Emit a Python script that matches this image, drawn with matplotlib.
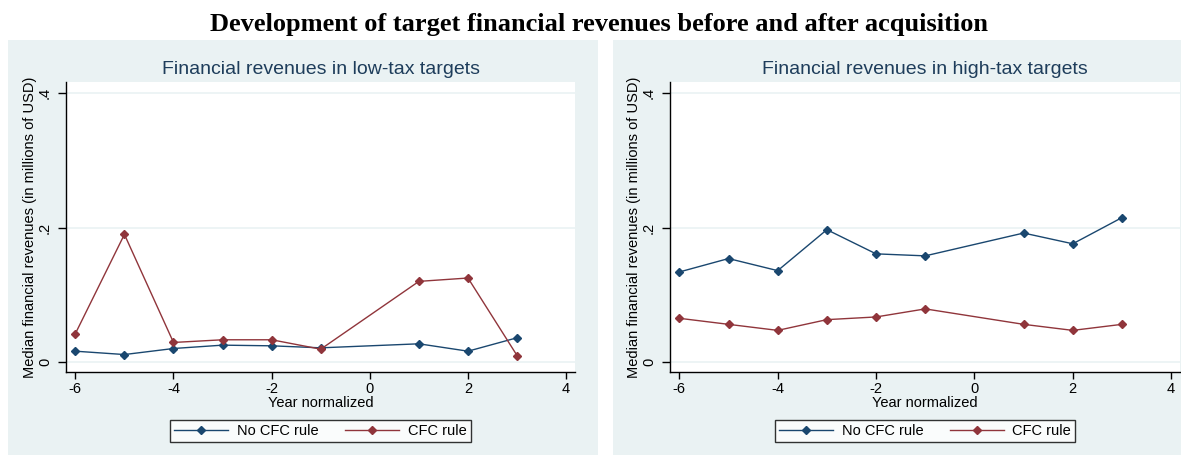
import matplotlib
matplotlib.use("Agg")
import matplotlib.pyplot as plt
from matplotlib.patches import Rectangle

plt.rcParams["font.family"] = ["Liberation Sans", "DejaVu Sans"]

years = [-6, -5, -4, -3, -2, -1, 1, 2, 3]

low_no_cfc = [0.016, 0.011, 0.020, 0.025, 0.024, 0.021, 0.027, 0.016, 0.036]
low_cfc = [0.042, 0.190, 0.029, 0.033, 0.033, 0.019, 0.120, 0.125, 0.0095]

high_no_cfc = [0.134, 0.154, 0.136, 0.197, 0.161, 0.158, 0.192, 0.176, 0.215]
high_cfc = [0.065, 0.056, 0.047, 0.063, 0.067, 0.079, 0.056, 0.047, 0.056]

x_ticks = [-6, -4, -2, 0, 2, 4]
y_ticks = [0, 0.2, 0.4]
y_tick_labels = ["0", ".2", ".4"]

NAVY = "#1a476f"
MAROON = "#90353b"
BG = "#eaf2f3"
TITLE_C = "#1e3d5b"

W, H = 1181, 457
fig = plt.figure(figsize=(W / 100, H / 100), dpi=100)


def px_rect(x0, y0, x1, y1):
    """Convert pixel box (top-left origin) to figure fraction [l, b, w, h]."""
    return [x0 / W, 1 - y1 / H, (x1 - x0) / W, (y1 - y0) / H]


def panel(bg_box, ax_box, title, no_cfc, cfc):
    l, b, w, h = px_rect(*bg_box)
    fig.patches.append(Rectangle((l, b), w, h, transform=fig.transFigure,
                                 facecolor=BG, edgecolor="none", zorder=-10))
    ax = fig.add_axes(px_rect(*ax_box))
    ax.set_zorder(1)
    ax.set_facecolor("white")
    for y in y_ticks:
        ax.axhline(y, color=BG, lw=1.2, zorder=0)
    ax.plot(years, no_cfc, "-", color=NAVY, lw=1.0, marker="D", ms=4.5,
            label="No CFC rule")
    ax.plot(years, cfc, "-", color=MAROON, lw=1.0, marker="D", ms=4.5,
            label="CFC rule")
    ax.set_xlim(-6.19, 4.18)
    ax.set_ylim(-0.015, 0.417)
    ax.set_xticks(x_ticks)
    ax.set_xticklabels([f"{t}" for t in x_ticks])
    ax.set_yticks(y_ticks)
    ax.set_yticklabels(y_tick_labels, rotation=90, va="center")
    ax.spines["top"].set_visible(False)
    ax.spines["right"].set_visible(False)
    for s in ("left", "bottom"):
        ax.spines[s].set_color("black")
        ax.spines[s].set_linewidth(1.0)
    ax.tick_params(length=5, width=1, labelsize=10.5, pad=2, colors="black")
    ax.tick_params(axis="y", length=6, pad=4)
    ax.set_xlabel("Year normalized", fontsize=10.5, labelpad=0)
    ax.set_ylabel("Median financial revenues (in millions of USD)", fontsize=10.5,
                  labelpad=1)
    ax.set_title(title, fontsize=14, color=TITLE_C, pad=6)

    # legend box centred under the plot, placed in figure pixels
    cx = (ax_box[0] + ax_box[2]) / 2 / W
    leg = ax.legend(loc="center", bbox_to_anchor=(cx, 1 - 431 / H),
                    bbox_transform=fig.transFigure, ncol=2,
                    frameon=True, fancybox=False, edgecolor="black",
                    fontsize=10.5, handlelength=3.7, handletextpad=0.6,
                    columnspacing=1.8, borderpad=0.3, borderaxespad=0)
    leg.get_frame().set_linewidth(1.0)
    return ax


panel((8, 40, 598, 455), (66, 82, 575, 372),
      "Financial revenues in low-tax targets", low_no_cfc, low_cfc)
panel((613, 40, 1181, 455), (670, 82, 1180, 372),
      "Financial revenues in high-tax targets", high_no_cfc, high_cfc)

fig.text(0.507, 0.947, "Development of target financial revenues before and after acquisition",
         ha="center", va="center", fontsize=19, fontweight="bold",
         family=["Liberation Serif", "DejaVu Serif"])

fig.savefig("out.png", dpi=100, facecolor="white")
